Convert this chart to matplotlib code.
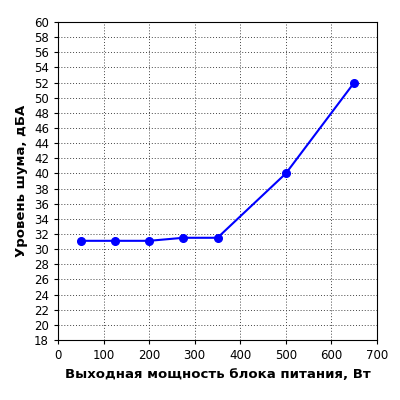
import matplotlib
matplotlib.use("Agg")
import matplotlib.pyplot as plt

power = [50, 125, 200, 275, 350, 500, 650]
noise = [31.1, 31.1, 31.1, 31.5, 31.5, 40.0, 52.0]
x_ticks = list(range(0, 701, 100))
y_ticks = list(range(18, 61, 2))

fig = plt.figure(figsize=(4, 4), dpi=100)
ax = fig.add_axes([0.145, 0.15, 0.7975, 0.795])
ax.plot(power, noise, color='#0000ff', lw=1.5, marker='o', ms=5.5)
ax.set_xlim(0, 700)
ax.set_ylim(18, 60)
ax.set_xticks(x_ticks)
ax.set_yticks(y_ticks)
ax.tick_params(labelsize=8.5, length=3, direction='out')
ax.grid(True, linestyle=(0, (1, 2)), color='#444444', lw=0.7)
ax.set_xlabel('Выходная мощность блока питания, Вт', fontsize=9.5, fontweight='bold')
ax.set_ylabel('Уровень шума, дБА', fontsize=9.5, fontweight='bold')
fig.savefig('out.png', dpi=100)
